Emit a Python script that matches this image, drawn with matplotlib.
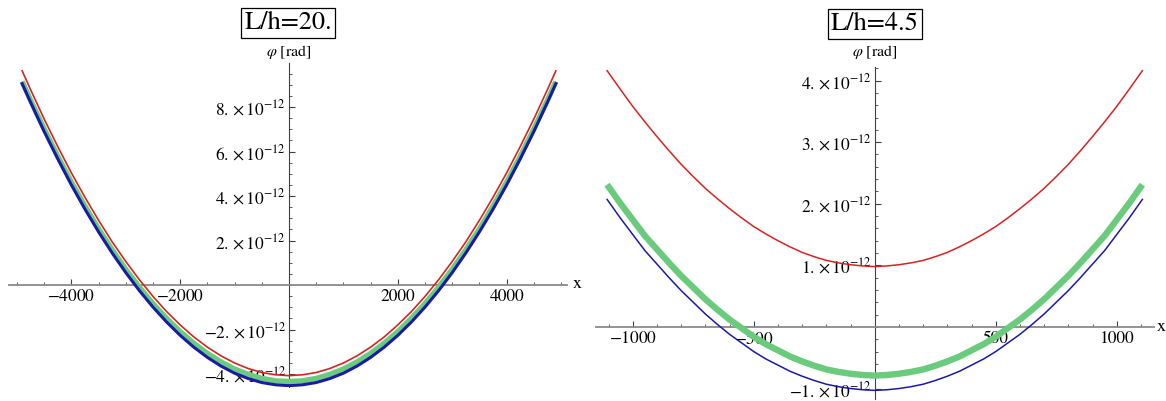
import numpy as np
import matplotlib
matplotlib.use("Agg")
import matplotlib.pyplot as plt
from matplotlib.ticker import FixedLocator, FuncFormatter

plt.rcParams["font.family"] = "STIXGeneral"
plt.rcParams["mathtext.fontset"] = "stix"

# values in units of 1e-12 rad
SCALE = 1e-12

# L/h = 20.
x_long = [-4905, -4750, -4500, -4250, -4000, -3750, -3500, -3250, -3000, -2750,
          -2500, -2250, -2000, -1750, -1500, -1250, -1000, -750, -500, -250, 0,
          250, 500, 750, 1000, 1250, 1500, 1750, 2000, 2250, 2500,
          2750, 3000, 3250, 3500, 3750, 4000, 4250, 4500, 4750, 4905]
red_long = [9.63, 8.78, 7.46, 6.22, 5.04, 3.94, 2.91, 1.94, 1.06, 0.24,
            -0.51, -1.19, -1.79, -2.33, -2.79, -3.18, -3.50, -3.75, -3.93, -4.03, -4.07,
            -4.03, -3.93, -3.75, -3.50, -3.18, -2.79, -2.33, -1.79, -1.19, -0.51,
            0.24, 1.06, 1.94, 2.91, 3.94, 5.04, 6.22, 7.46, 8.78, 9.63]
green_long = [9.15, 8.31, 7.02, 5.79, 4.63, 3.55, 2.53, 1.59, 0.71, -0.09,
              -0.83, -1.49, -2.09, -2.61, -3.07, -3.45, -3.77, -4.01, -4.19, -4.30, -4.33,
              -4.30, -4.19, -4.01, -3.77, -3.45, -3.07, -2.61, -2.09, -1.49, -0.83,
              -0.09, 0.71, 1.59, 2.53, 3.55, 4.63, 5.79, 7.02, 8.31, 9.15]
blue_long = [9.05, 8.21, 6.90, 5.67, 4.50, 3.41, 2.39, 1.44, 0.56, -0.25,
             -0.99, -1.66, -2.26, -2.79, -3.25, -3.64, -3.96, -4.20, -4.38, -4.48, -4.52,
             -4.48, -4.38, -4.20, -3.96, -3.64, -3.25, -2.79, -2.26, -1.66, -0.99,
             -0.25, 0.56, 1.44, 2.39, 3.41, 4.50, 5.67, 6.90, 8.21, 9.05]

# L/h = 4.5
x_short = [-1106, -1050, -1000, -950, -900, -850, -800, -750, -700, -650, -600,
           -550, -500, -450, -400, -350, -300, -250, -200, -150, -100, -50, 0,
           50, 100, 150, 200, 250, 300, 350, 400, 450, 500, 550,
           600, 650, 700, 750, 800, 850, 900, 950, 1000, 1050, 1106]
red_short = [4.16, 3.85, 3.58, 3.33, 3.09, 2.86, 2.64, 2.44, 2.25, 2.08, 1.92,
             1.77, 1.63, 1.51, 1.40, 1.30, 1.21, 1.14, 1.08, 1.04, 1.01, 0.99, 0.98,
             0.99, 1.01, 1.04, 1.08, 1.14, 1.21, 1.30, 1.40, 1.51, 1.63, 1.77,
             1.92, 2.08, 2.25, 2.44, 2.64, 2.86, 3.09, 3.33, 3.58, 3.85, 4.16]
green_short = [2.31, 2.00, 1.74, 1.48, 1.26, 1.04, 0.83, 0.64, 0.45, 0.28, 0.12,
               -0.02, -0.16, -0.28, -0.38, -0.48, -0.56, -0.63, -0.69, -0.73, -0.76, -0.78, -0.79,
               -0.78, -0.76, -0.73, -0.69, -0.63, -0.56, -0.48, -0.38, -0.28, -0.16, -0.02,
               0.12, 0.28, 0.45, 0.64, 0.83, 1.04, 1.26, 1.48, 1.74, 2.00, 2.31]
blue_short = [2.07, 1.76, 1.50, 1.24, 1.02, 0.80, 0.59, 0.40, 0.21, 0.04, -0.12,
              -0.26, -0.40, -0.52, -0.62, -0.72, -0.80, -0.87, -0.93, -0.97, -1.00, -1.02, -1.03,
              -1.02, -1.00, -0.97, -0.93, -0.87, -0.80, -0.72, -0.62, -0.52, -0.40, -0.26,
              -0.12, 0.04, 0.21, 0.40, 0.59, 0.80, 1.02, 1.24, 1.50, 1.76, 2.07]

RED = "#d9221f"
GREEN = "#6acb7d"
BLUE = "#1a1aa8"


def sci_label(v, pos=None):
    m = v / SCALE
    if abs(m) < 1e-9:
        return ""
    sign = "-" if m < 0 else ""
    return rf"${sign}{abs(m):.0f}.\,{{\times}}\,10^{{-12}}$"


def int_label(v, pos=None):
    if v == 0:
        return ""
    return rf"${int(v)}$" if v < 0 else f"{int(v)}"


def style_axes(ax, xmaj, xmin, ymaj, ymin):
    for side in ("top", "right"):
        ax.spines[side].set_visible(False)
    ax.spines["left"].set_position(("data", 0))
    ax.spines["bottom"].set_position(("data", 0))
    ax.spines["bottom"].set_color("#8a8a8a")
    ax.spines["bottom"].set_linewidth(1.3)
    ax.spines["left"].set_color("#404040")
    ax.spines["left"].set_linewidth(0.8)
    ax.xaxis.set_major_locator(FixedLocator(xmaj))
    ax.xaxis.set_minor_locator(FixedLocator(xmin))
    ax.yaxis.set_major_locator(FixedLocator([v * SCALE for v in ymaj]))
    ax.yaxis.set_minor_locator(FixedLocator([v * SCALE for v in ymin]))
    ax.xaxis.set_major_formatter(FuncFormatter(int_label))
    ax.yaxis.set_major_formatter(FuncFormatter(sci_label))
    ax.tick_params(which="major", direction="in", length=4, width=0.8,
                   color="#404040", labelsize=12.5, pad=3)
    ax.tick_params(which="minor", direction="in", length=2.5, width=0.6,
                   color="#404040")
    ax.tick_params(axis="y", pad=2)
    ax.set_facecolor("none")


fig = plt.figure(figsize=(11.66, 4.01), dpi=100)
W, H = 1166, 401

# left panel
ax1 = fig.add_axes([9 / W, (H - 387) / H, 558 / W, 324 / H])
xl = np.array(x_long)
ax1.plot(xl, np.array(green_long) * SCALE, color=GREEN, lw=3.8, zorder=3,
         solid_capstyle="butt")
ax1.plot(xl, np.array(blue_long) * SCALE, color=BLUE, lw=2.2, zorder=4)
ax1.plot(xl, np.array(red_long) * SCALE, color=RED, lw=1.2, zorder=5)
ax1.set_xlim(-5147, 5110)
ax1.set_ylim(-4.58 * SCALE, 9.98 * SCALE)
style_axes(ax1, [-4000, -2000, 2000, 4000], np.arange(-5000, 5001, 500),
           [-4, -2, 2, 4, 6, 8], np.arange(-4.5, 9.6, 0.5))

# right panel
ax2 = fig.add_axes([596 / W, (H - 399) / H, 558 / W, 332 / H])
xs = np.array(x_short)
ax2.plot(xs, np.array(green_short) * SCALE, color=GREEN, lw=4.6, zorder=3,
         solid_capstyle="butt")
ax2.plot(xs, np.array(blue_short) * SCALE, color=BLUE, lw=1.1, zorder=4)
ax2.plot(xs, np.array(red_short) * SCALE, color=RED, lw=1.1, zorder=5)
ax2.set_xlim(-1152, 1154)
ax2.set_ylim(-1.17 * SCALE, 4.22 * SCALE)
style_axes(ax2, [-1000, -500, 500, 1000], np.arange(-1100, 1101, 100),
           [-1, 1, 2, 3, 4], np.arange(-1.0, 4.21, 0.2))

# titles, axis names
box = dict(boxstyle="square,pad=0.12", fc="white", ec="black", lw=0.9)
fig.text(288 / W, 1 - 23 / H, "L/h=20.", ha="center", va="center",
         fontsize=19, bbox=box)
fig.text(875 / W, 1 - 24 / H, "L/h=4.5", ha="center", va="center",
         fontsize=19, bbox=box)
fig.text(289 / W, 1 - 52 / H, r"$\varphi$ [rad]", ha="center", va="center",
         fontsize=11.5)
fig.text(875 / W, 1 - 52 / H, r"$\varphi$ [rad]", ha="center", va="center",
         fontsize=11.5)
fig.text(577 / W, 1 - 284 / H, "x", ha="center", va="center", fontsize=13)
fig.text(1161 / W, 1 - 327 / H, "x", ha="center", va="center", fontsize=13)

fig.savefig("out.png", dpi=100)
plt.close(fig)
